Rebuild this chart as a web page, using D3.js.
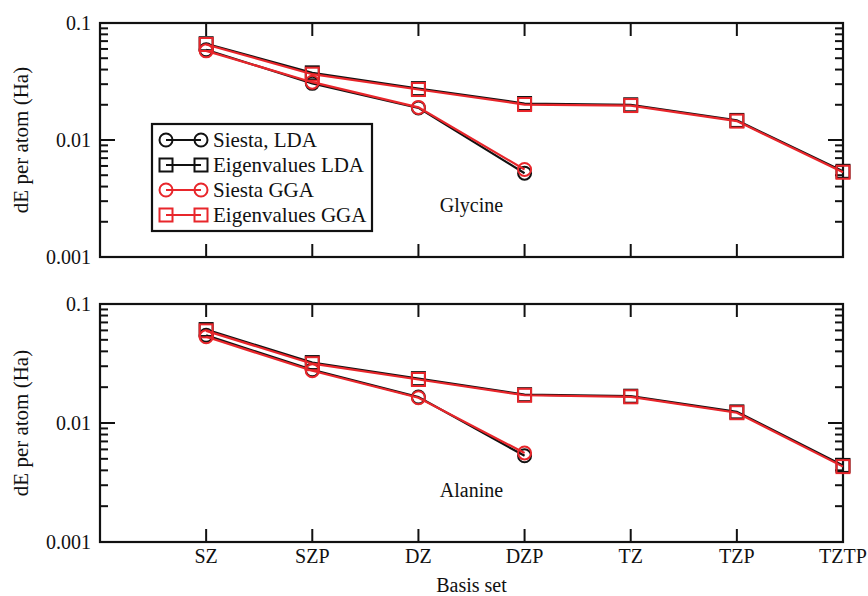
<!doctype html>
<head>
<meta charset="utf-8">
<script src="https://cdn.jsdelivr.net/npm/d3@7"></script>
<style>
body { margin: 0; background: #fff; }
</style>
</head>
<body>
<script>

var categories = ["SZ", "SZP", "DZ", "DZP", "TZ", "TZP", "TZTP"];
var yTicks = [0.1, 0.01, 0.001];
var yTickLabels = ["0.1", "0.01", "0.001"];

// Glycine
var glySiestaLDA = [0.0590, 0.0305, 0.0188, 0.0052];
var glyEigenLDA  = [0.0665, 0.0375, 0.0275, 0.0205, 0.0200, 0.0147, 0.0054];
var glySiestaGGA = [0.0578, 0.0312, 0.0190, 0.0056];
var glyEigenGGA  = [0.0655, 0.0365, 0.0270, 0.0201, 0.0197, 0.0145, 0.0053];

// Alanine
var alaSiestaLDA = [0.0545, 0.0280, 0.0165, 0.0053];
var alaEigenLDA  = [0.0610, 0.0322, 0.0236, 0.0173, 0.0168, 0.0124, 0.0044];
var alaSiestaGGA = [0.0530, 0.0275, 0.0163, 0.0056];
var alaEigenGGA  = [0.0595, 0.0315, 0.0232, 0.0171, 0.0166, 0.0122, 0.0043];

var legendNames = ["Siesta, LDA", "Eigenvalues LDA", "Siesta GGA", "Eigenvalues GGA"];
var red = "#e8262b";
var serif = "'Liberation Serif', 'Times New Roman', Times, 'DejaVu Serif', serif";

var svg = d3.select("body").append("svg")
  .attr("width", 868)
  .attr("height", 596)
  .attr("font-family", serif);

function label(sel, size) {
  return sel.append("text").attr("font-family", serif).attr("font-size", size || 20).attr("fill", "#111");
}

var left = 100, right = 843;
var x = d3.scaleLinear().domain([-1, categories.length - 1]).range([left, right]);

function drawPanel(top, bottom, series, name, nameY, showLabels) {
  var y = d3.scaleLog().domain([0.001, 0.1]).range([bottom, top]);
  var g = svg.append("g");

  // minor ticks, both sides
  var minor = [];
  [0.001, 0.01].forEach(d => d3.range(2, 10).forEach(k => minor.push(d * k)));
  minor.forEach(v => {
    g.append("line").attr("x1", left).attr("x2", left + 8).attr("y1", y(v)).attr("y2", y(v))
      .attr("stroke", "#111").attr("stroke-width", 2);
    g.append("line").attr("x1", right).attr("x2", right - 8).attr("y1", y(v)).attr("y2", y(v))
      .attr("stroke", "#111").attr("stroke-width", 2);
  });
  yTicks.forEach((v, i) => {
    g.append("line").attr("x1", left).attr("x2", left + 15).attr("y1", y(v)).attr("y2", y(v))
      .attr("stroke", "#111").attr("stroke-width", 2);
    g.append("line").attr("x1", right).attr("x2", right - 15).attr("y1", y(v)).attr("y2", y(v))
      .attr("stroke", "#111").attr("stroke-width", 2);
    label(g).attr("x", left - 9).attr("y", y(v)).attr("dy", "0.35em")
      .attr("text-anchor", "end").text(yTickLabels[i]);
  });
  // x ticks top and bottom
  categories.forEach((c, i) => {
    g.append("line").attr("x1", x(i)).attr("x2", x(i)).attr("y1", top).attr("y2", top + 13)
      .attr("stroke", "#111").attr("stroke-width", 2);
    g.append("line").attr("x1", x(i)).attr("x2", x(i)).attr("y1", bottom).attr("y2", bottom - 13)
      .attr("stroke", "#111").attr("stroke-width", 2);
    if (showLabels)
      label(g).attr("x", x(i)).attr("y", bottom + 21).attr("text-anchor", "middle").text(c);
  });
  g.append("rect").attr("x", left).attr("y", top).attr("width", right - left).attr("height", bottom - top)
    .attr("fill", "none").attr("stroke", "#111").attr("stroke-width", 2.2);

  label(g, 21)
    .attr("transform", "translate(28," + ((top + bottom) / 2) + ") rotate(-90)")
    .attr("text-anchor", "middle")
    .text("dE per atom (Ha)");

  label(g).attr("x", (left + right) / 2).attr("y", nameY).attr("text-anchor", "middle").text(name);

  var line = d3.line().x((d, i) => x(i)).y(d => y(d));
  series.forEach(s => {
    g.append("path").datum(s.values).attr("d", line)
      .attr("fill", "none").attr("stroke", s.color).attr("stroke-width", 2.2);
    s.values.forEach((v, i) => {
      if (s.shape == "circle")
        g.append("circle").attr("cx", x(i)).attr("cy", y(v)).attr("r", 6.5)
          .attr("fill", "none").attr("stroke", s.color).attr("stroke-width", 2);
      else
        g.append("rect").attr("x", x(i) - 6.5).attr("y", y(v) - 6.5).attr("width", 13).attr("height", 13)
          .attr("fill", "none").attr("stroke", s.color).attr("stroke-width", 2);
    });
  });
  return g;
}

drawPanel(23, 257, [
  {values: glySiestaLDA, color: "#111", shape: "circle"},
  {values: glyEigenLDA, color: "#111", shape: "square"},
  {values: glySiestaGGA, color: red, shape: "circle"},
  {values: glyEigenGGA, color: red, shape: "square"}
], "Glycine", 212, false);

drawPanel(304, 542, [
  {values: alaSiestaLDA, color: "#111", shape: "circle"},
  {values: alaEigenLDA, color: "#111", shape: "square"},
  {values: alaSiestaGGA, color: red, shape: "circle"},
  {values: alaEigenGGA, color: red, shape: "square"}
], "Alanine", 497, true);

label(svg).attr("x", (left + right) / 2).attr("y", 592).attr("text-anchor", "middle").text("Basis set");

// legend
var lg = svg.append("g").attr("transform", "translate(152,124)");
lg.append("rect").attr("width", 220).attr("height", 107)
  .attr("fill", "#fff").attr("stroke", "#111").attr("stroke-width", 2.2);
var legColors = ["#111", "#111", red, red];
var legShapes = ["circle", "square", "circle", "square"];
legendNames.forEach((n, i) => {
  var cy = 16 + i * 25;
  var c = legColors[i];
  lg.append("line").attr("x1", 14).attr("x2", 49).attr("y1", cy).attr("y2", cy)
    .attr("stroke", c).attr("stroke-width", 2);
  [14, 49].forEach(cx => {
    if (legShapes[i] == "circle")
      lg.append("circle").attr("cx", cx).attr("cy", cy).attr("r", 6.5)
        .attr("fill", "none").attr("stroke", c).attr("stroke-width", 2);
    else
      lg.append("rect").attr("x", cx - 6.5).attr("y", cy - 6.5).attr("width", 13).attr("height", 13)
        .attr("fill", "none").attr("stroke", c).attr("stroke-width", 2);
  });
  label(lg, 21).attr("x", 61).attr("y", cy).attr("dy", "0.35em").text(n);
});

</script>
</body>
</html>
